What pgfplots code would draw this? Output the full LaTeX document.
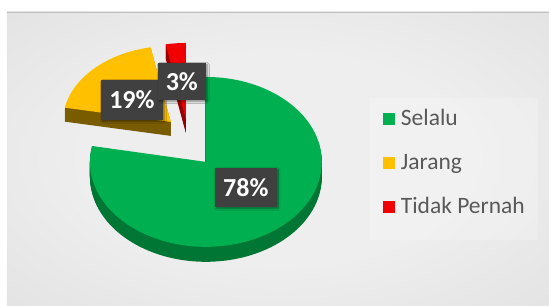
\documentclass[border=0pt]{standalone}
\usepackage{pgfplots}
\usepackage{pgfplotstable}
\pgfplotsset{compat=1.18}
\usepackage{fontspec}
\setmainfont{Carlito}
\usetikzlibrary{shadows.blur}

\definecolor{cGreen}{RGB}{0,176,80}
\definecolor{cGreenSide}{RGB}{0,118,52}
\definecolor{cYellow}{RGB}{255,192,0}
\definecolor{cYellowSide}{RGB}{122,92,0}
\definecolor{cRed}{RGB}{240,0,0}
\definecolor{cRedSide}{RGB}{150,0,0}
\definecolor{labelgray}{RGB}{64,64,64}
\definecolor{legtext}{RGB}{89,89,89}
\definecolor{bgIn}{RGB}{238,238,238}
\definecolor{bgMid}{RGB}{226,226,226}
\definecolor{bgOut}{RGB}{204,204,204}

\pgfdeclareradialshading{bgshade}{\pgfpoint{0bp}{0bp}}{%
  color(0bp)=(bgIn); color(18bp)=(bgIn); color(38bp)=(bgMid); color(55bp)=(bgOut); color(75bp)=(bgOut)}

\pgfplotstableread{
cat value
Selalu 78
Jarang 19
Tidak 3
}\piedata
\pgfplotstablegetelem{0}{value}\of\piedata \let\vA\pgfplotsretval
\pgfplotstablegetelem{1}{value}\of\piedata \let\vB\pgfplotsretval
\pgfplotstablegetelem{2}{value}\of\piedata \let\vC\pgfplotsretval
\pgfmathsetmacro\aStart{90}
\pgfmathsetmacro\aGreenEnd{90-3.6*\vA}
\pgfmathsetmacro\aYellowEnd{\aGreenEnd-3.6*\vB}
\pgfmathsetmacro\aRedEnd{\aYellowEnd-3.6*\vC}

% apex x, apex y, start, end, rx, ry, depth, top colour, side colour
\newcommand{\pieslice}[9]{%
  \pgfplotsinvokeforeach{1,...,#7}{%
    \fill[#9] ([yshift=-##1 bp]axis cs:#1,#2) -- ++(#3:#5bp and #6bp)
      arc[start angle=#3,end angle=#4,x radius=#5bp,y radius=#6bp] -- cycle;}%
  \fill[#8] (axis cs:#1,#2) -- ++(#3:#5bp and #6bp)
      arc[start angle=#3,end angle=#4,x radius=#5bp,y radius=#6bp] -- cycle;%
}

\begin{document}
\begin{tikzpicture}
\begin{axis}[
  width=549bp, height=306bp, scale only axis,
  xmin=0, xmax=549, ymin=0, ymax=306, y dir=reverse,
  hide axis, clip=false,
]
% background
\fill[white] (axis cs:0,0) rectangle (axis cs:549,306);
\shade[shading=bgshade] (axis cs:7,12) rectangle (axis cs:549,306);
\draw[gray!50, line width=0.8bp] (axis cs:7,12.4) -- (axis cs:549,12.4);
% legend panel
\fill[white, opacity=0.2] (axis cs:370,98) rectangle (axis cs:538,240);

% pie slices (exploded, 3D)
\pieslice{171}{122}{\aGreenEnd}{\aYellowEnd}{108}{76}{14}{cYellow}{cYellowSide}
\pieslice{186}{119}{\aYellowEnd}{\aRedEnd}{108}{76}{14}{cRed}{cRedSide}
\pieslice{206}{162}{\aStart}{\aGreenEnd}{116}{85}{15}{cGreen}{cGreenSide}

% data labels
\node[fill=labelgray, text=white, minimum width=62bp, minimum height=40bp, inner sep=0pt,
  font=\fontsize{26bp}{30bp}\selectfont\bfseries,
  blur shadow={shadow xshift=1.5bp, shadow yshift=-1.5bp, shadow opacity=45, shadow blur steps=6}]
  at (axis cs:132,100) {\vB\%};
\node[fill=labelgray, text=white, minimum width=48bp, minimum height=37bp, inner sep=0pt,
  font=\fontsize{26bp}{30bp}\selectfont\bfseries,
  blur shadow={shadow xshift=1.5bp, shadow yshift=-1.5bp, shadow opacity=45, shadow blur steps=6}]
  at (axis cs:182,81.5) {\vC\%};
\node[fill=labelgray, text=white, minimum width=62bp, minimum height=39bp, inner sep=0pt,
  font=\fontsize{26bp}{30bp}\selectfont\bfseries,
  blur shadow={shadow xshift=1.5bp, shadow yshift=-1.5bp, shadow opacity=45, shadow blur steps=6}]
  at (axis cs:246,187.5) {\vA\%};

% legend
\fill[cGreen]  (axis cs:383,113) rectangle (axis cs:395,125);
\fill[cYellow] (axis cs:383,157) rectangle (axis cs:395,169);
\fill[cRed]    (axis cs:383,201) rectangle (axis cs:395,213);
\node[anchor=base west, inner sep=0pt, text=legtext, font=\fontsize{23.5bp}{28bp}\selectfont]
  at (axis cs:401,125.5) {Selalu};
\node[anchor=base west, inner sep=0pt, text=legtext, font=\fontsize{23.5bp}{28bp}\selectfont]
  at (axis cs:401,169.5) {Jarang};
\node[anchor=base west, inner sep=0pt, text=legtext, font=\fontsize{23.5bp}{28bp}\selectfont]
  at (axis cs:401,213.5) {Tidak Pernah};
\end{axis}
\end{tikzpicture}
\end{document}
